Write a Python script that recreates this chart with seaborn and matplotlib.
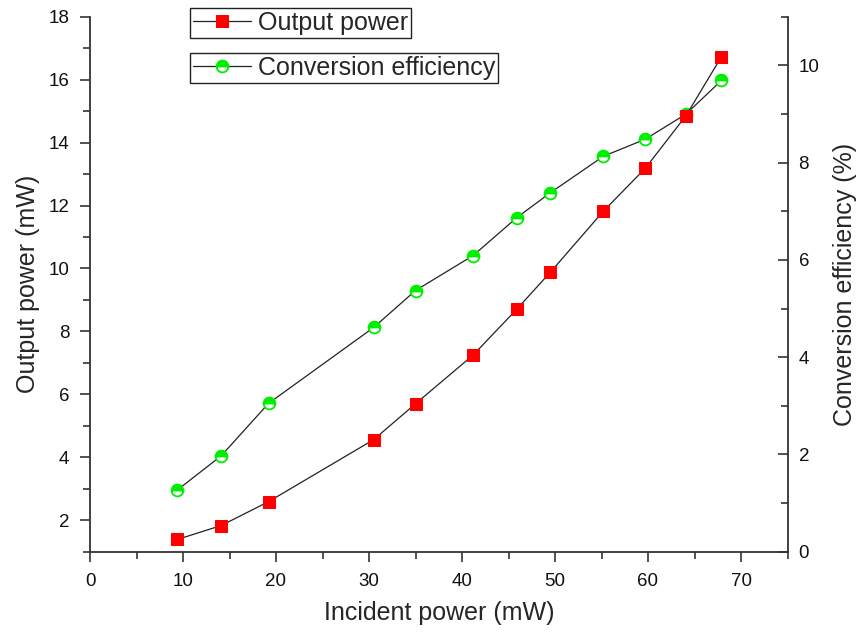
import matplotlib
matplotlib.use("Agg")
import matplotlib.pyplot as plt
import seaborn as sns
import pandas as pd
from matplotlib.ticker import MultipleLocator

# Measured data
incident_power = [9.4, 14.1, 19.2, 30.5, 35.0, 41.2, 45.9, 49.5, 55.2, 59.7, 64.1, 67.9]
output_power = [1.39, 1.83, 2.59, 4.56, 5.70, 7.25, 8.71, 9.88, 11.82, 13.18, 14.86, 16.73]
conversion_eff = [1.27, 1.97, 3.05, 4.61, 5.37, 6.09, 6.87, 7.38, 8.13, 8.48, 9.00, 9.69]

df = pd.DataFrame({"incident": incident_power, "output": output_power, "eff": conversion_eff})

sns.set_style("white")
plt.rcParams["font.family"] = ["Liberation Sans", "DejaVu Sans"]

fig = plt.figure(figsize=(8.59, 6.32), dpi=100)
ax = fig.add_axes([90 / 859, 1 - 551.7 / 632, (787.5 - 90) / 859, (551.7 - 16.7) / 632])
ax2 = ax.twinx()
# output-power squares sit on top of the efficiency circles
ax.set_zorder(ax2.get_zorder() + 1)
ax.patch.set_visible(False)

sns.lineplot(data=df, x="incident", y="output", ax=ax, color="#222222", lw=0.9,
             marker="s", markersize=9, markerfacecolor="#ff0000",
             markeredgecolor="#ff0000", label="Output power", legend=False)
sns.lineplot(data=df, x="incident", y="eff", ax=ax2, color="#222222", lw=0.9,
             marker="o", markersize=8.5, fillstyle="top", markerfacecolor="#00ee00",
             markerfacecoloralt="white", markeredgecolor="#00ee00", markeredgewidth=1.3,
             label="Conversion efficiency", legend=False)

ax.set_xlim(0, 75)
ax.set_ylim(1, 18)
ax2.set_ylim(0, 11)

ax.xaxis.set_major_locator(MultipleLocator(10))
ax.xaxis.set_minor_locator(MultipleLocator(5))
ax.yaxis.set_major_locator(MultipleLocator(2))
ax.yaxis.set_minor_locator(MultipleLocator(1))
ax2.yaxis.set_major_locator(MultipleLocator(2))
ax2.yaxis.set_minor_locator(MultipleLocator(1))

spine_c = "#333333"
for a in (ax, ax2):
    for s in a.spines.values():
        s.set_color(spine_c)
        s.set_linewidth(1.3)
    a.spines["top"].set_visible(False)
ax.spines["right"].set_visible(False)
ax2.spines["left"].set_visible(False)
ax2.spines["bottom"].set_visible(False)

ax.tick_params(axis="both", which="major", direction="out", length=7, width=1.2,
               color=spine_c, labelsize=13.5, labelcolor="#111111", bottom=True, left=True)
ax.tick_params(axis="both", which="minor", direction="out", length=5, width=1.2,
               color=spine_c, bottom=True, left=True)
ax2.tick_params(axis="y", which="major", direction="in", length=7, width=1.2,
                color=spine_c, labelsize=13.5, labelcolor="#111111", pad=8, right=True)
ax2.tick_params(axis="y", which="minor", direction="in", length=5, width=1.2,
                color=spine_c, right=True)
ax.tick_params(axis="x", pad=8)
ax.tick_params(axis="y", pad=8)

ax.set_xlabel("Incident power (mW)", fontsize=18, labelpad=8)
ax.set_ylabel("Output power (mW)", fontsize=18, labelpad=6)
ax2.set_ylabel("Conversion efficiency (%)", fontsize=18, labelpad=10)

h1 = ax.get_lines()[0]
h2 = ax2.get_lines()[0]
leg_kw = dict(loc="upper left", borderaxespad=0, borderpad=0.12, handlelength=2.3,
              handletextpad=0.3, fontsize=18, fancybox=False, framealpha=1,
              edgecolor="#222222", frameon=True)
leg1 = fig.legend([h1], ["Output power"], bbox_to_anchor=(190 / 859, 1 - 8 / 632), **leg_kw)
leg2 = fig.legend([h2], ["Conversion efficiency"], bbox_to_anchor=(190 / 859, 1 - 53 / 632), **leg_kw)
for lg in (leg1, leg2):
    lg.get_frame().set_linewidth(1.0)

fig.savefig("out.png", dpi=100)
